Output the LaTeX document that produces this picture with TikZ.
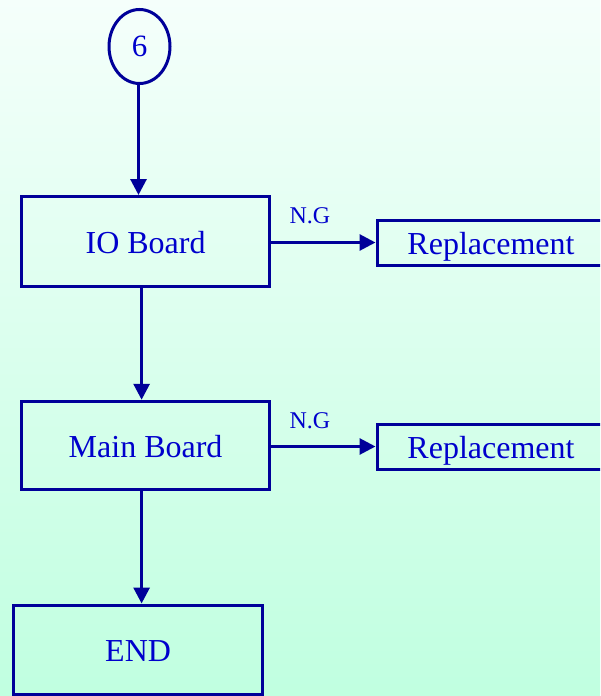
\documentclass[tikz,border=0pt]{standalone}
\usepackage{fontspec}
\setmainfont{Liberation Serif}
\usetikzlibrary{shapes.geometric,arrows.meta}
\definecolor{lineblue}{RGB}{0,0,153}
\definecolor{textblue}{RGB}{0,0,204}
\definecolor{bgtop}{RGB}{245,255,251}
\definecolor{bgbot}{RGB}{192,255,224}
\begin{document}
\begin{tikzpicture}[x=1pt,y=-1pt,
  box/.style={draw=lineblue,line width=3pt,rectangle,inner sep=0pt,text=textblue,
    text height=24pt,text depth=0pt,font=\fontsize{32}{38}\selectfont},
  oval/.style={draw=lineblue,line width=3pt,ellipse,inner sep=0pt,minimum width=61pt,
    minimum height=74pt,text=textblue,font=\fontsize{31}{36}\selectfont},
  flow/.style={draw=lineblue,line width=3pt,-{Triangle[length=16pt,width=16pt]}},
  lbl/.style={text=textblue,inner sep=0pt,font=\fontsize{24}{28}\selectfont}]
\clip (0,0) rectangle (600,696);
\shade[top color=bgtop,bottom color=bgbot] (0,0) rectangle (600,696);
\node[oval] (c6) at (139.5,46.5) {6};
\node[box,minimum width=248.7pt,minimum height=90pt] (io) at (145.6,241.5) {IO Board};
\node[box,minimum width=248.7pt,minimum height=88.7pt] (main) at (145.6,445.6) {Main Board};
\node[box,minimum width=248.8pt,minimum height=89pt] (end) at (138.1,649.5) {END};
\node[box,minimum width=228pt,minimum height=45pt] (rep1) at (491,242.5) {Replacement};
\node[box,minimum width=228pt,minimum height=45pt] (rep2) at (491,446.5) {Replacement};
\node[lbl] (ng1) at (310,216) {N.G};
\node[lbl] (ng2) at (310,421) {N.G};
\draw[flow] ([xshift=-1pt]c6.south) -- ([xshift=-1pt]c6.south |- io.north);
\draw[flow] ([xshift=-4pt]io.south) -- ([xshift=-4pt]io.south |- main.north);
\draw[flow] ([xshift=-4pt]main.south) -- ([xshift=-4pt]main.south |- end.north);
\draw[flow] (rep1.west -| io.east) -- (rep1.west);
\draw[flow] (rep2.west -| main.east) -- (rep2.west);
\end{tikzpicture}
\end{document}
